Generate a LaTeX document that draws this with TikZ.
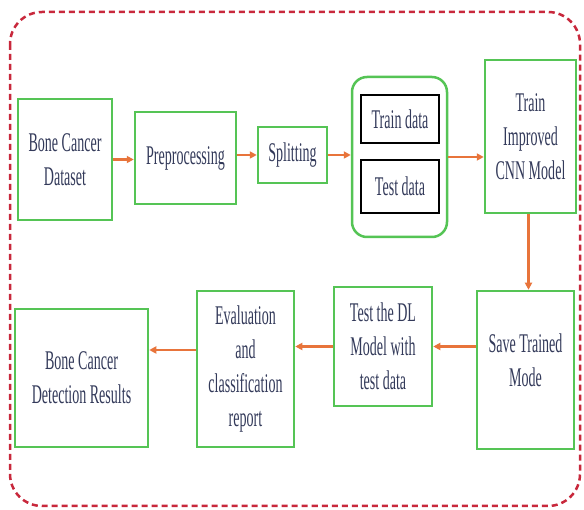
\documentclass[tikz,border=0pt]{standalone}
\usepackage{fontspec}
\setmainfont{Liberation Serif}
\newfontfamily\cf[FakeStretch=0.52]{Liberation Serif}
\usetikzlibrary{arrows.meta,calc}
\definecolor{gbox}{HTML}{55C455}
\definecolor{oarr}{HTML}{E8743B}
\definecolor{rdash}{HTML}{C8283C}
\definecolor{tcol}{HTML}{333A5A}
\tikzset{
  gbox/.style={draw=gbox, line width=2.5pt, fill=white, align=center, inner sep=2pt,
    font=\cf\fontsize{27}{34}\selectfont, text=tcol},
  bbox/.style={draw=black, line width=1.5pt, fill=white, align=center,
    font=\cf\fontsize{27}{34}\selectfont, text=tcol},
  arr/.style={draw=oarr, line width=2.5pt, -{Triangle[length=7pt,width=7pt]}},
}
\begin{document}
\begin{tikzpicture}[x=1pt,y=-1pt]
\useasboundingbox (0,0) rectangle (584,510);
\draw[rdash, line width=2.5pt, dash pattern=on 6pt off 4pt, rounded corners=32pt] (10,12) rectangle (580,506);

\node[gbox, minimum width=94pt, minimum height=121pt] (data) at (65,159.5) {Bone Cancer\\Dataset};
\node[gbox, minimum width=101pt, minimum height=92pt] (pre) at (185.5,158) {Preprocessing};
\node[gbox, minimum width=69pt, minimum height=56pt] (split) at (292.5,155) {Splitting};
\node[gbox, rounded corners=15pt, minimum width=95pt, minimum height=160pt] (group) at (399.5,157) {};
\node[bbox, minimum width=78pt, minimum height=48pt] (train) at (400,119) {Train data};
\node[bbox, minimum width=78pt, minimum height=53pt] (test) at (400,186.5) {Test data};
\node[gbox, minimum width=91pt, minimum height=153pt] (cnn) at (530.5,136.5) {Train\\Improved\\CNN Model};
\node[gbox, minimum width=97pt, minimum height=158pt, text depth=20pt] (save) at (525.5,370) {Save Trained\\Mode};
\node[gbox, minimum width=98pt, minimum height=119pt] (testdl) at (383,346.5) {Test the DL\\Model with\\test data};
\node[gbox, minimum width=97pt, minimum height=156pt] (eval) at (245.5,369) {Evaluation\\and\\classification\\report};
\node[gbox, minimum width=133pt, minimum height=138pt] (res) at (81.5,378) {Bone Cancer\\Detection Results};

\draw[arr] (data.east) -- (data.east -| pre.west);
\draw[arr] (split.west -| pre.east) -- (split.west);
\draw[arr] (split.east) -- (split.east -| group.west);
\draw[arr] (group.east) -- (group.east -| cnn.west);
\draw[arr] ([xshift=-2pt]cnn.south) -- ([xshift=-2pt]cnn.south |- save.north);
\draw[arr] (testdl.east -| save.west) -- (testdl.east);
\draw[arr] (testdl.west) -- (testdl.west -| eval.east);
\draw[arr] ([yshift=19pt]eval.west) -- ([yshift=19pt]eval.west -| res.east);
\end{tikzpicture}
\end{document}
